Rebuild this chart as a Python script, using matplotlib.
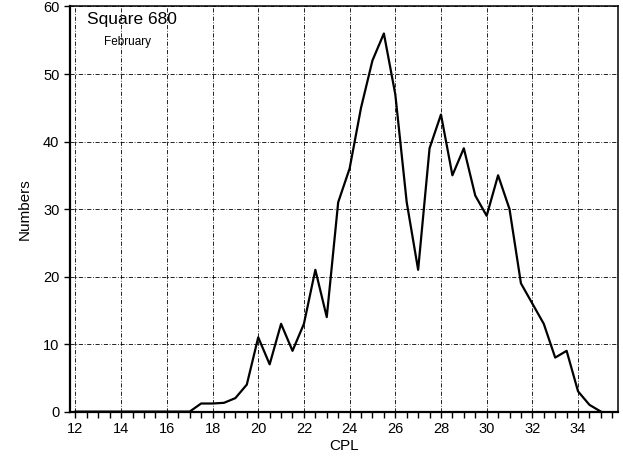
import matplotlib
matplotlib.use("Agg")
import matplotlib.pyplot as plt
from matplotlib.ticker import MultipleLocator

plt.rcParams['font.family'] = ['Liberation Sans', 'DejaVu Sans']

# CPL classes (0.5 steps) and counts
cpl = [12, 12.5, 13, 13.5, 14, 14.5, 15, 15.5, 16, 16.5, 17, 17.5, 18, 18.5,
       19, 19.5, 20, 20.5, 21, 21.5, 22, 22.5, 23, 23.5, 24, 24.5, 25, 25.5,
       26, 26.5, 27, 27.5, 28, 28.5, 29, 29.5, 30, 30.5, 31, 31.5, 32, 32.5,
       33, 33.5, 34, 34.5, 35]
numbers = [0, 0, 0, 0, 0, 0, 0, 0, 0, 0, 0, 1.2, 1.2, 1.3,
           2, 4, 11, 7, 13, 9, 13, 21, 14, 31, 36, 45, 52, 56,
           47, 31, 21, 39, 44, 35, 39, 32, 29, 35, 30, 19, 16, 13,
           8, 9, 3, 1, 0]

x_ticks = [12, 14, 16, 18, 20, 22, 24, 26, 28, 30, 32, 34]
y_ticks = [0, 10, 20, 30, 40, 50, 60]

fig = plt.figure(figsize=(6.23, 4.63), dpi=100)
ax = fig.add_axes([0.112, 0.111, 0.88, 0.875])

ax.plot(cpl, numbers, color='black', linewidth=1.6)

ax.set_xlim(11.75, 35.75)
ax.set_ylim(0, 60)
ax.set_xticks(x_ticks)
ax.set_yticks(y_ticks)
ax.xaxis.set_minor_locator(MultipleLocator(0.5))
ax.tick_params(axis='both', which='both', direction='out', length=4, width=1,
               labelsize=10.5)
ax.tick_params(axis='x', which='minor', length=4)
ax.grid(True, which='major', color='black', linestyle=(0, (5, 2, 1, 2)),
        linewidth=0.6)

for side in ['left', 'bottom']:
    ax.spines[side].set_linewidth(1.6)
for side in ['top', 'right']:
    ax.spines[side].set_linewidth(1.1)

ax.set_xlabel('CPL', fontsize=11, labelpad=2)
ax.set_ylabel('Numbers', fontsize=11, labelpad=8)

ax.text(0.031, 0.987, 'Square 680', transform=ax.transAxes, fontsize=12.5,
        ha='left', va='top')
ax.text(0.105, 0.928, 'February', transform=ax.transAxes, fontsize=8.5,
        ha='center', va='top')

fig.savefig('out.png', dpi=100)
